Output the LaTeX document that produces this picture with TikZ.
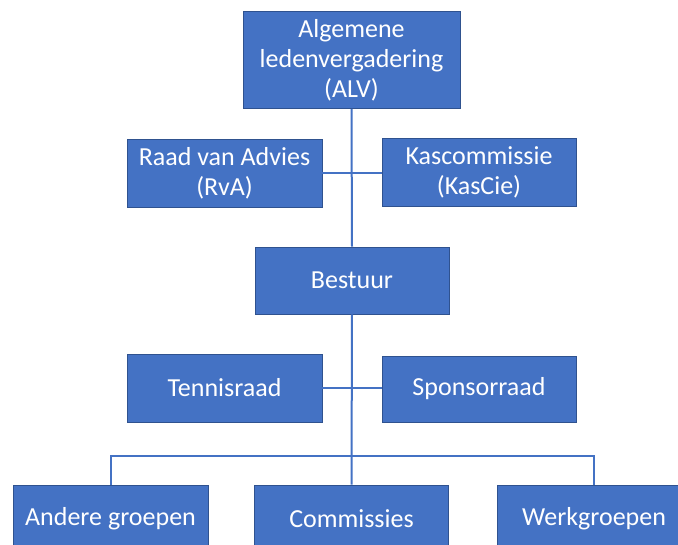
\documentclass[tikz,border=0pt]{standalone}
\usepackage{fontspec}
\setmainfont{Carlito}
\definecolor{boxblue}{HTML}{4472C4}
\definecolor{boxedge}{HTML}{2F528F}
\begin{document}
\begin{tikzpicture}[x=1pt, y=-1pt,
    orgbox/.style={draw=boxedge, line width=0.8pt, fill=boxblue, text=white,
      inner sep=0pt, align=center, minimum height=67pt, minimum width=194pt,
      font=\fontsize{26}{30}\selectfont},
    link/.style={draw=boxblue, line width=2pt}]
  \useasboundingbox (0,0) rectangle (678,545);
  \clip (0,0) rectangle (678,545);
  % top
  \draw (351.5,60) node (alv) [orgbox, minimum width=217pt, minimum height=97pt] {Algemene\\ledenvergadering\\(ALV)};
  \draw (224.5,173) node (rva) [orgbox, minimum width=195pt, minimum height=68pt] {Raad van Advies\\(RvA)};
  \draw (479,172) node (kascie) [orgbox, minimum height=68pt] {Kascommissie\\(KasCie)};
  % bestuur
  \draw (352,280.5) node (bestuur) [orgbox] {Bestuur};
  \draw (224.5,388) node (tennis) [orgbox, minimum width=195pt, minimum height=68pt] {Tennisraad};
  \draw (479,389) node (sponsor) [orgbox, minimum height=66pt] {Sponsorraad};
  % bottom row
  \draw (110.5,518.5) node (andere) [orgbox, minimum width=195pt] {Andere groepen};
  \draw (351.5,518.5) node (commissies) [orgbox] {Commissies};
  \draw (594,518.5) node (werk) [orgbox] {Werkgroepen};
  \coordinate (bus) at (352,456);
  % lines
  \draw[link] (alv.south) -- (bestuur.north);
  \draw[link] (rva.east) -- (kascie.west |- rva.east);
  \draw[link] (bestuur.south) -- (commissies.north);
  \draw[link] (tennis.east) -- (sponsor.west |- tennis.east);
  \draw[link] (andere.north) |- (bus) -| (werk.north);
\end{tikzpicture}
\end{document}
